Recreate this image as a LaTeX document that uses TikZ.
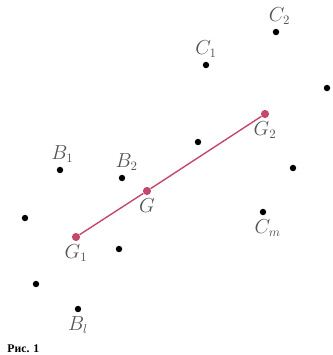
\documentclass[tikz,border=0pt]{standalone}
\usepackage{fontspec}
\newfontfamily\cyrfont{Liberation Serif}
\usepackage{tikz}
\usetikzlibrary{positioning}
\definecolor{linkred}{RGB}{196,72,108}
\definecolor{labgray}{RGB}{85,85,85}

\begin{document}
\begin{tikzpicture}[x=0.03cm, y=-0.03cm,
  pt/.style={circle, fill=black, inner sep=0pt, minimum size=5.5pt},
  gpt/.style={circle, fill=linkred, inner sep=0pt, minimum size=7pt},
  lab/.style={font=\fontsize{16}{18}\selectfont, text=labgray, inner sep=1pt},
  seg/.style={linkred, line width=1.2pt}
]
\useasboundingbox (0,0) rectangle (333,355);
% points of the two groups
\node[pt] (c2) at (276,32) {};
\node[pt] (c1) at (206,65) {};
\node[pt] (p1) at (327,88) {};
\node[pt] (p2) at (198,142) {};
\node[pt] (p3) at (293,168) {};
\node[pt] (b1) at (60,170) {};
\node[pt] (b2) at (122,178) {};
\node[pt] (p4) at (25,218) {};
\node[pt] (cm) at (263,212) {};
\node[pt] (p5) at (119,249) {};
\node[pt] (p6) at (36,284) {};
\node[pt] (bl) at (78,309) {};
% centres of gravity
\node[gpt] (g1) at (76,237) {};
\node[gpt] (g) at (147,191) {};
\node[gpt] (g2) at (265,114) {};
\draw[seg] (g1) -- (g) -- (g2);

\node[lab, above=2pt of c2, xshift=3pt] {$C_2$};
\node[lab, above=2pt of c1] {$C_1$};
\node[lab, below=2pt of g2] {$G_2$};
\node[lab, above=2pt of b1, xshift=2pt] {$B_1$};
\node[lab, above=2pt of b2, xshift=4pt] {$B_2$};
\node[lab, below=2pt of g] {$G$};
\node[lab, below=2pt of cm, xshift=4pt] {$C_m$};
\node[lab, below=2pt of g1] {$G_1$};
\node[lab, below=2pt of bl] {$B_l$};
\node[font=\cyrfont\normalsize\bfseries, anchor=south west, inner sep=1pt] (cap) at (6,354) {Рис. 1};
\end{tikzpicture}
\end{document}
